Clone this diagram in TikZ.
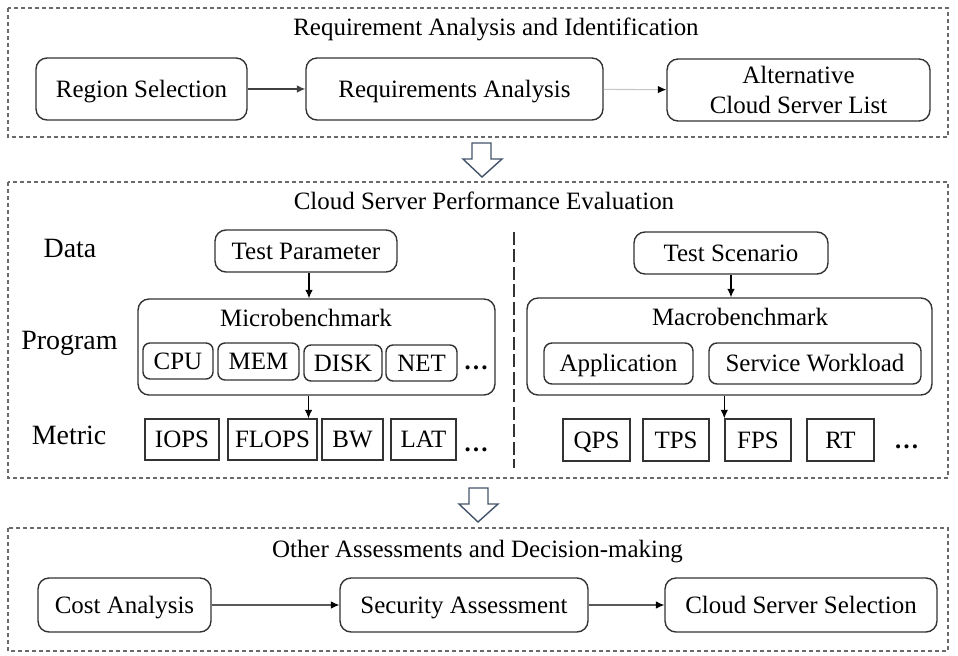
\documentclass[tikz,border=0pt]{standalone}
\usepackage{fontspec}
\setmainfont{Liberation Serif}
\usetikzlibrary{arrows.meta}

\definecolor{framegray}{HTML}{6A6A6A}
\definecolor{boxgray}{HTML}{333333}
\definecolor{hollowblue}{HTML}{44546A}

\tikzset{
  rbase/.style={draw=boxgray, line width=0.8pt, rounded corners=0.22cm, inner sep=0pt, align=center},
  rbox/.style={rbase, text height=9.6pt, text depth=0.2pt},
  sbox/.style={draw=boxgray, line width=0.8pt, inner sep=0pt, text height=9.6pt, text depth=0.2pt},
  rowlabel/.style={font=\fontsize{15.9}{19}\selectfont},
  frame/.style={draw=framegray, line width=0.6pt, dash pattern=on 0.08cm off 0.06cm},
  arr/.style={-{Latex[length=0.17cm,width=0.15cm]}, line width=0.6pt},
  bigarrow/.style={draw=hollowblue, fill=white, line width=0.8pt, line join=miter}
}

\begin{document}
\begin{tikzpicture}[x=0.02cm, y=-0.02cm, font=\fontsize{14.2}{17}\selectfont]
\useasboundingbox (0,0) rectangle (958,656);

% Stage 1: requirement analysis
\draw[frame] (8,8) rectangle (948,137);
\node (t1) at (496,29) {Requirement Analysis and Identification};
\node[rbox, minimum width=4.22cm, minimum height=1.24cm] (region) at (141.5,89) {Region Selection};
\node[rbox, minimum width=5.94cm, minimum height=1.24cm] (reqs) at (454.5,89) {Requirements Analysis};
\node[rbase, minimum width=5.26cm, minimum height=1.24cm] (altlist) at (798.5,90) {Alternative\\Cloud Server List};
\draw[arr, black!75] (region) -- (reqs);
\draw[arr, gray!45, -{Latex[length=0.17cm,width=0.15cm,black]}] (reqs) -- (altlist);

\draw[bigarrow] (472,143) -- (491,143) -- (491,159) -- (502,159) -- (482,177) -- (463,159) -- (472,159) -- cycle;

% Stage 2: performance evaluation
\draw[frame] (8,182) rectangle (948,478);
\node (t2) at (484,201) {Cloud Server Performance Evaluation};
\node[rowlabel] (data) at (70,248) {Data};
\node[rowlabel] (prog) at (69.5,343) {Program};
\node[rowlabel] (metr) at (69,435) {Metric};
\draw[boxgray, line width=0.6pt, dash pattern=on 0.26cm off 0.09cm] (514,232) -- (514,468);

% micro side
\node[rbox, minimum width=3.64cm, minimum height=0.84cm] (tparam) at (306,251) {Test Parameter};
\node[rbox, minimum width=7.14cm, minimum height=1.92cm] (micro) at (316.5,347) {};
\node (microlbl) at (306,318) {Microbenchmark};
\node[rbox, rounded corners=0.14cm, minimum width=1.40cm, minimum height=0.72cm] (cpu) at (178,361) {CPU};
\node[rbox, rounded corners=0.14cm, minimum width=1.62cm, minimum height=0.74cm] (mem) at (258.5,361.5) {MEM};
\node[rbox, rounded corners=0.14cm, minimum width=1.56cm, minimum height=0.72cm] (disk) at (343,363) {DISK};
\node[rbox, rounded corners=0.14cm, minimum width=1.42cm, minimum height=0.72cm] (net) at (421.5,363) {NET};
\node (mdots) at (476,368) {\textbf{\dots}};
\node[sbox, minimum width=1.48cm, minimum height=0.82cm] (iops) at (182,439.5) {IOPS};
\node[sbox, minimum width=1.78cm, minimum height=0.82cm] (flops) at (272.5,439.5) {FLOPS};
\node[sbox, minimum width=1.22cm, minimum height=0.82cm] (bw) at (352.5,439.5) {BW};
\node[sbox, minimum width=1.30cm, minimum height=0.82cm] (lat) at (423.5,439.5) {LAT};
\node (mtdots) at (476,450) {\textbf{\dots}};
\draw[arr] ([xshift=0.06cm]tparam.south) -- ([xshift=0.06cm]tparam.south |- micro.north);
\draw[arr] ([xshift=-0.16cm]micro.south) -- ([xshift=-0.16cm]micro.south |- flops.north);

% macro side
\node[rbox, minimum width=3.88cm, minimum height=0.84cm] (tscen) at (731,253) {Test Scenario};
\node[rbox, minimum width=8.10cm, minimum height=1.94cm] (macro) at (729.5,346.5) {};
\node (macrolbl) at (740,317) {Macrobenchmark};
\node[rbox, rounded corners=0.16cm, minimum width=2.98cm, minimum height=0.82cm] (app) at (618.5,363.5) {Application};
\node[rbox, rounded corners=0.16cm, minimum width=4.24cm, minimum height=0.82cm] (svcwl) at (815,363.5) {Service Workload};
\node[sbox, minimum width=1.34cm, minimum height=0.84cm] (qps) at (596.5,440) {QPS};
\node[sbox, minimum width=1.32cm, minimum height=0.84cm] (tps) at (676,440) {TPS};
\node[sbox, minimum width=1.32cm, minimum height=0.84cm] (fps) at (758,440) {FPS};
\node[sbox, minimum width=1.34cm, minimum height=0.84cm] (rt) at (840.5,440) {RT};
\node (rdots) at (906.5,447) {\textbf{\dots}};
\draw[arr] (tscen.south) -- (tscen.south |- macro.north);
\draw[arr] (macro.south -| fps.north west) -- (fps.north west);

\draw[bigarrow] (469,488) -- (488,488) -- (488,504) -- (498,504) -- (478,522) -- (459,504) -- (469,504) -- cycle;

% Stage 3: decision
\draw[frame] (8,528) rectangle (948,651);
\node (t3) at (477.5,552) {Other Assessments and Decision-making};
\node[rbox, minimum width=3.46cm, minimum height=1.08cm] (cost) at (124.5,605) {Cost Analysis};
\node[rbox, minimum width=4.96cm, minimum height=1.08cm] (secur) at (464,605) {Security Assessment};
\node[rbox, minimum width=5.44cm, minimum height=1.08cm] (select) at (801,605) {Cloud Server Selection};
\draw[arr, black!65, -{Latex[length=0.17cm,width=0.15cm,black]}] (cost) -- (secur);
\draw[arr, black!65, -{Latex[length=0.17cm,width=0.15cm,black]}] (secur) -- (select);

\end{tikzpicture}
\end{document}
